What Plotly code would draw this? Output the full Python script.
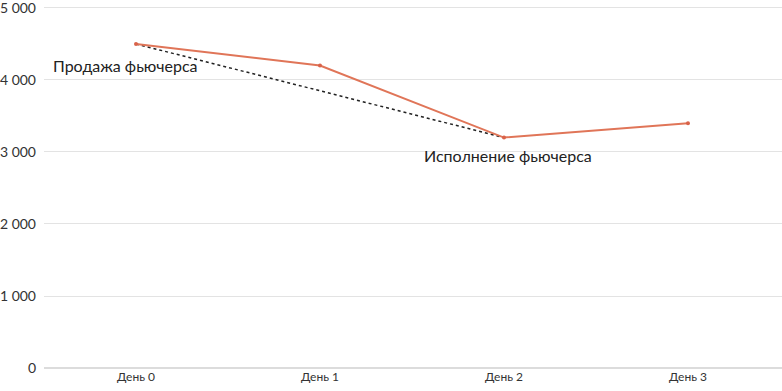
import plotly.graph_objects as go

categories = ["День 0", "День 1", "День 2", "День 3"]
price = [4500, 4200, 3200, 3400]
dotted_x = ["День 0", "День 2"]
dotted_y = [4500, 3200]
ytick_vals = [0, 1000, 2000, 3000, 4000, 5000]
ytick_text = ["0", "1 000", "2 000", "3 000", "4 000", "5 000"]

fig = go.Figure()
fig.add_trace(go.Scatter(x=dotted_x, y=dotted_y, mode="lines",
                         line=dict(color="#222222", width=1.5, dash="dot"),
                         showlegend=False, hoverinfo="skip"))
fig.add_trace(go.Scatter(x=categories, y=price, mode="lines+markers",
                         line=dict(color="#e07558", width=2),
                         marker=dict(size=4, color="#d9634a"),
                         showlegend=False))

fig.add_annotation(x="День 0", y=4500, text="Продажа фьючерса", showarrow=False,
                   xshift=-11, yshift=-22, font=dict(size=16, color="#222222"))
fig.add_annotation(x="День 2", y=3200, text="Исполнение фьючерса", showarrow=False,
                   xshift=4, yshift=-18, font=dict(size=16, color="#222222"))

fig.update_layout(
    width=782, height=391,
    margin=dict(l=44, r=0, t=1, b=23, autoexpand=False),
    paper_bgcolor="white", plot_bgcolor="white",
    font=dict(family="Lato, sans-serif", size=13, color="#333333"),
    xaxis=dict(type="category", categoryorder="array", categoryarray=categories,
               range=[-0.5, 3.511], showgrid=False,
               showline=False, zeroline=False, ticks="", tickfont=dict(size=12)),
    yaxis=dict(range=[0, 5097], tickvals=ytick_vals, ticktext=ytick_text,
               showgrid=True, gridcolor="#e3e3e3", gridwidth=1,
               zeroline=True, zerolinecolor="#dcdcdc", zerolinewidth=1.5,
               showline=False, ticks="", tickfont=dict(size=14),
               ticklabelstandoff=7, ticklabeloverflow="allow"),
)

fig.write_html("out.html",
               config={"displayModeBar": False},
               post_script="document.body.style.margin='0';document.body.style.overflow='hidden';")
